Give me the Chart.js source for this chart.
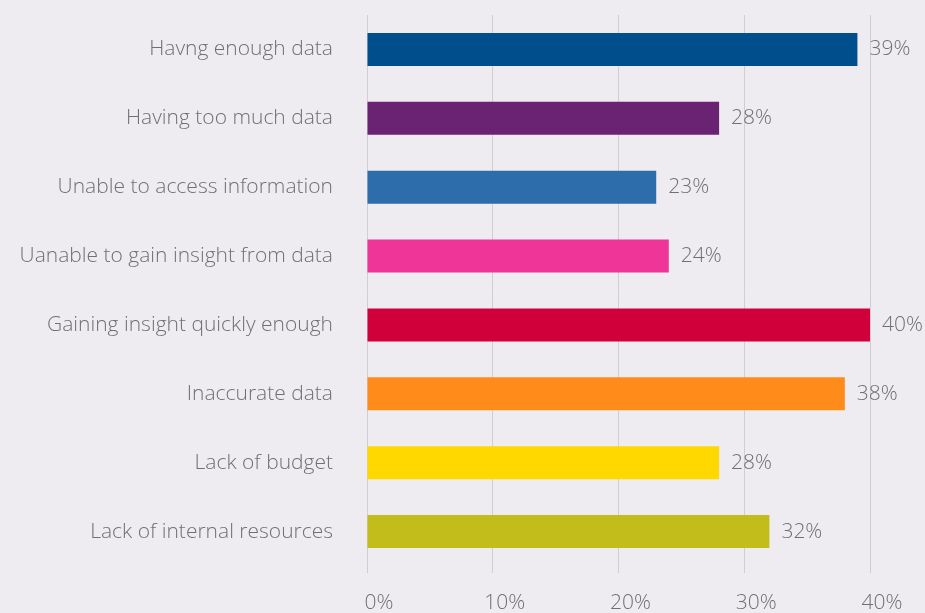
<!DOCTYPE html>
<html lang="en">
<head>
    <meta charset="UTF-8">
    <title>Data challenges</title>
    <script src="https://cdn.jsdelivr.net/npm/chart.js"></script>
    <style>
        body {
            margin: 0;
            padding: 0;
            background-color: #eeecf0;
        }
        #wrap {
            width: 925px;
            height: 613px;
        }
    </style>
</head>
<body>
    <div id="wrap"><canvas id="barChart"></canvas></div>
    <script>
        // Data
        const categories = [
            'Havng enough data',
            'Having too much data',
            'Unable to access information',
            'Uanable to gain insight from data',
            'Gaining insight quickly enough',
            'Inaccurate data',
            'Lack of budget',
            'Lack of internal resources'
        ];
        const values = [39, 28, 23, 24, 40, 38, 28, 32];
        const barColors = ['#004f8c', '#6a2373', '#2d6dab', '#f03599', '#d0003b', '#ff8c1a', '#ffd800', '#c2bd1a'];
        const tickValues = [0, 10, 20, 30, 40];

        const textColor = '#707070';
        const font = { family: 'Open Sans', size: 21, weight: 300 };

        // value labels at the end of each bar
        const valueLabels = {
            id: 'valueLabels',
            afterDatasetsDraw(chart) {
                const ctx = chart.ctx;
                const meta = chart.getDatasetMeta(0);
                ctx.save();
                ctx.font = '300 21px "Open Sans"';
                ctx.fillStyle = textColor;
                ctx.textAlign = 'left';
                ctx.textBaseline = 'middle';
                meta.data.forEach((bar, i) => {
                    ctx.fillText(values[i] + '%', bar.x + 12, bar.y);
                });
                ctx.restore();
            }
        };

        new Chart(document.getElementById('barChart'), {
            type: 'bar',
            data: {
                labels: categories,
                datasets: [{
                    data: values,
                    backgroundColor: barColors,
                    categoryPercentage: 0.48,
                    barPercentage: 1
                }]
            },
            options: {
                indexAxis: 'y',
                responsive: true,
                maintainAspectRatio: false,
                animation: false,
                layout: { padding: { top: 15, right: 55, left: 0, bottom: 0 } },
                plugins: {
                    legend: { display: false },
                    tooltip: { enabled: false }
                },
                scales: {
                    x: {
                        min: 0,
                        max: 40,
                        afterBuildTicks: axis => {
                            axis.ticks = tickValues.map(v => ({ value: v }));
                        },
                        afterFit: axis => { axis.height = 47; },
                        grid: { color: '#cfcfd2', lineWidth: 1, tickLength: 7 },
                        border: { display: false },
                        ticks: {
                            color: textColor,
                            font: font,
                            padding: 17,
                            labelOffset: 12,
                            callback: v => v + '%'
                        }
                    },
                    y: {
                        afterFit: axis => {
                            axis.width = 367;
                            axis.paddingTop = 0;
                            axis.paddingBottom = 0;
                        },
                        grid: { display: false, drawTicks: false },
                        border: { display: false },
                        ticks: {
                            color: textColor,
                            font: font,
                            padding: 34
                        }
                    }
                }
            },
            plugins: [valueLabels]
        });
    </script>
</body>
</html>
